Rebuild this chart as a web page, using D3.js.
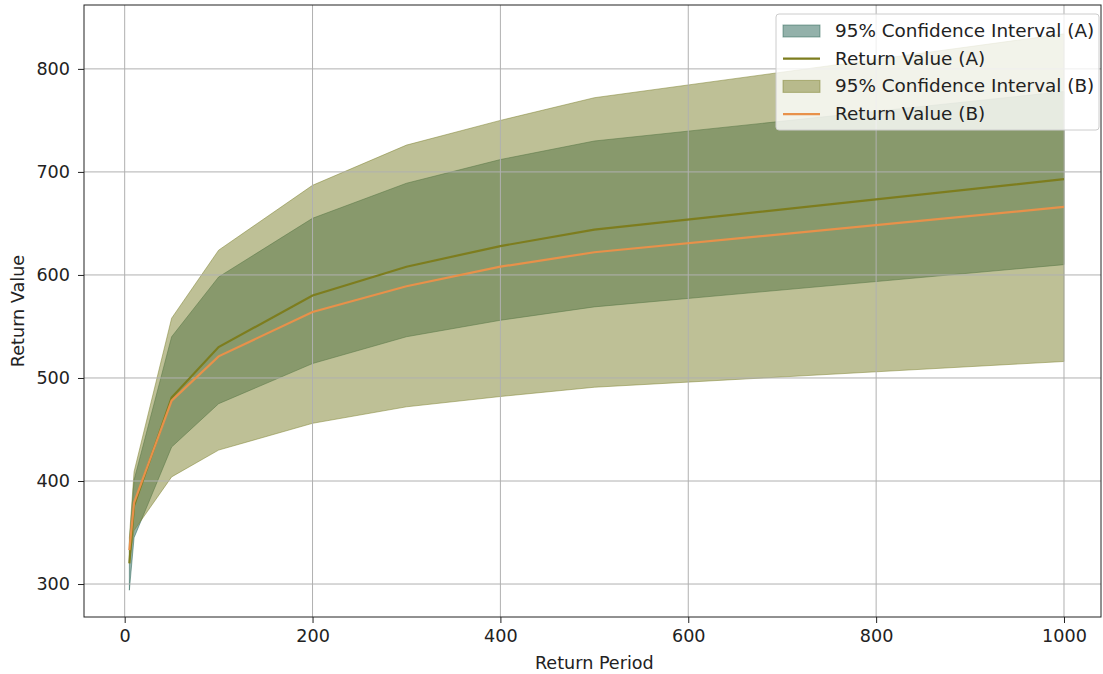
<!DOCTYPE html>
<html>
<head>
<meta charset="utf-8">
<script src="https://cdn.jsdelivr.net/npm/d3@7"></script>
<style>
  body { margin: 0; background: #fff; }
  text { font-family: "DejaVu Sans", sans-serif; fill: #222; }
</style>
</head>
<body>
<svg id="chart"></svg>
<script>
// return periods and values
var periods = [5, 10, 50, 100, 200, 300, 400, 500, 1000];
var valueA = [320, 376, 481, 530, 580, 608, 628, 644, 693];
var lowerA = [294, 345, 433, 475, 514, 540, 556, 569, 610];
var upperA = [340, 401, 540, 598, 655, 689, 712, 730, 778];
var valueB = [333, 379, 478, 521, 564, 589, 608, 622, 666];
var lowerB = [322, 352, 404, 430, 456, 472, 482, 491, 516];
var upperB = [345, 409, 558, 624, 687, 726, 750, 772, 834];

var xTicks = [0, 200, 400, 600, 800, 1000];
var yTicks = [300, 400, 500, 600, 700, 800];

var legendItems = [
  {label: "95% Confidence Interval (A)", type: "patch", color: "#276355"},
  {label: "Return Value (A)", type: "line", color: "#7d7d1e"},
  {label: "95% Confidence Interval (B)", type: "patch", color: "#7d812d"},
  {label: "Return Value (B)", type: "line", color: "#e8914a"}
];

var fontSize = 17.6;

var windowSize = {width: 1103, height: 674};
var margin = {top: 5, right: 2, bottom: 57, left: 84};
var plotW = windowSize.width - margin.left - margin.right;
var plotH = windowSize.height - margin.top - margin.bottom;

var svg = d3.select('#chart')
  .attr('width', windowSize.width)
  .attr('height', windowSize.height);

var x = d3.scaleLinear().domain([-43.3, 1039.4]).range([0, plotW]);
var y = d3.scaleLinear().domain([268, 862]).range([plotH, 0]);

var g = svg.append('g').attr('transform', 'translate(' + margin.left + ',' + margin.top + ')');

function band(lo, hi) {
  return periods.map(function(p, i) { return {p: p, lo: lo[i], hi: hi[i]}; });
}
function series(vals) {
  return periods.map(function(p, i) { return {p: p, v: vals[i]}; });
}

var area = d3.area()
  .x(function(d) { return x(d.p); })
  .y0(function(d) { return y(d.lo); })
  .y1(function(d) { return y(d.hi); });

var line = d3.line()
  .x(function(d) { return x(d.p); })
  .y(function(d) { return y(d.v); });

// bands
g.append('path').datum(band(lowerA, upperA))
  .attr('d', area)
  .attr('fill', legendItems[0].color).attr('fill-opacity', 0.5)
  .attr('stroke', legendItems[0].color).attr('stroke-opacity', 0.5).attr('stroke-width', 1);

g.append('path').datum(band(lowerB, upperB))
  .attr('d', area)
  .attr('fill', legendItems[2].color).attr('fill-opacity', 0.5)
  .attr('stroke', legendItems[2].color).attr('stroke-opacity', 0.5).attr('stroke-width', 1);

// grid sits over the fills, under the lines
g.append('g').selectAll('line.gx')
  .data(xTicks).enter().append('line')
    .attr('x1', function(d) { return x(d); })
    .attr('x2', function(d) { return x(d); })
    .attr('y1', 0).attr('y2', plotH)
    .attr('stroke', '#b0b0b0').attr('stroke-width', 1);

g.append('g').selectAll('line.gy')
  .data(yTicks).enter().append('line')
    .attr('y1', function(d) { return y(d); })
    .attr('y2', function(d) { return y(d); })
    .attr('x1', 0).attr('x2', plotW)
    .attr('stroke', '#b0b0b0').attr('stroke-width', 1);

// lines
g.append('path').datum(series(valueA))
  .attr('d', line).attr('fill', 'none')
  .attr('stroke', legendItems[1].color).attr('stroke-width', 2.2);

g.append('path').datum(series(valueB))
  .attr('d', line).attr('fill', 'none')
  .attr('stroke', legendItems[3].color).attr('stroke-width', 2.2);

// axes
var xAxis = g.append('g')
  .attr('transform', 'translate(0,' + plotH + ')')
  .call(d3.axisBottom(x).tickValues(xTicks).tickSize(6).tickPadding(7).tickFormat(d3.format('d')));

var yAxis = g.append('g')
  .call(d3.axisLeft(y).tickValues(yTicks).tickSize(6).tickPadding(8).tickFormat(d3.format('d')));

[xAxis, yAxis].forEach(function(a) {
  a.select('.domain').remove();
  a.selectAll('text').attr('font-size', fontSize).attr('font-family', '"DejaVu Sans", sans-serif').attr('fill', '#222');
  a.selectAll('line').attr('stroke', '#222');
});

// frame
g.append('rect')
  .attr('width', plotW).attr('height', plotH)
  .attr('fill', 'none').attr('stroke', '#222').attr('stroke-width', 1);

svg.append('text')
  .attr('x', margin.left + x(500)).attr('y', 669)
  .attr('text-anchor', 'middle').attr('font-size', fontSize)
  .text('Return Period');

svg.append('text')
  .attr('transform', 'translate(24,' + (margin.top + plotH / 2) + ') rotate(-90)')
  .attr('text-anchor', 'middle').attr('font-size', fontSize)
  .text('Return Value');

// legend
var leg = svg.append('g').attr('transform', 'translate(776,14)');
leg.append('rect')
  .attr('width', 323).attr('height', 116).attr('rx', 3)
  .attr('fill', '#fff').attr('fill-opacity', 0.8)
  .attr('stroke', '#ccc').attr('stroke-width', 1);

var rows = leg.selectAll('g.row')
  .data(legendItems).enter().append('g')
    .attr('transform', function(d, i) { return 'translate(0,' + (16 + i * 27.7) + ')'; });

rows.filter(function(d) { return d.type === 'patch'; }).append('rect')
  .attr('x', 7).attr('y', -5).attr('width', 37).attr('height', 12)
  .attr('fill', function(d) { return d.color; }).attr('fill-opacity', 0.5)
  .attr('stroke', function(d) { return d.color; }).attr('stroke-opacity', 0.5);

rows.filter(function(d) { return d.type === 'line'; }).append('line')
  .attr('x1', 7).attr('x2', 44).attr('y1', 1).attr('y2', 1)
  .attr('stroke', function(d) { return d.color; }).attr('stroke-width', 2.2);

rows.append('text')
  .attr('x', 59).attr('y', 7)
  .attr('font-size', 18.4)
  .text(function(d) { return d.label; });
</script>
</body>
</html>
